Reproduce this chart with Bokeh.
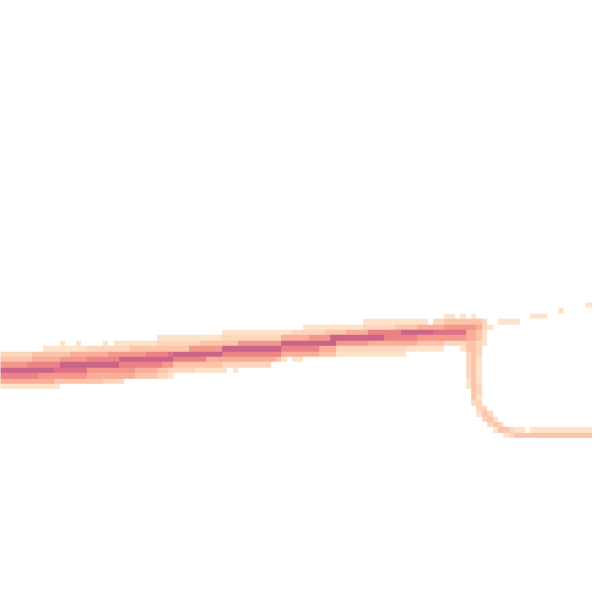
import numpy as np
from bokeh.plotting import figure
from bokeh.models import Range1d, LinearColorMapper
from bokeh.embed import file_html
from bokeh.resources import INLINE

# Aggregated density raster (datashader-like). Each run: (row, first col, last col, density level 1..8)
specks = [
    (55, 107, 108, 1), (56, 102, 102, 1),
    (57, 81, 82, 1), (57, 84, 84, 1), (57, 86, 86, 1), (57, 97, 99, 1),
    (58, 91, 94, 1),
]

band = [
    (58, 66, 77, 1), (58, 79, 80, 2), (58, 81, 87, 3), (58, 88, 88, 2),
    (59, 55, 65, 1), (59, 66, 71, 2), (59, 72, 75, 3), (59, 76, 80, 4), (59, 81, 86, 5),
    (59, 87, 87, 4), (59, 88, 88, 2), (59, 89, 89, 1),
    (60, 40, 52, 1), (60, 53, 58, 2), (60, 59, 62, 3), (60, 63, 66, 4), (60, 67, 72, 6),
    (60, 73, 78, 8), (60, 79, 84, 7), (60, 85, 86, 4), (60, 87, 87, 3), (60, 88, 88, 1),
    (61, 28, 39, 1), (61, 40, 50, 2), (61, 51, 55, 4), (61, 56, 59, 5), (61, 60, 69, 8),
    (61, 70, 75, 6), (61, 76, 84, 5), (61, 85, 86, 4), (61, 87, 87, 3), (61, 88, 88, 1),
    (62, 10, 10, 1), (62, 13, 13, 1), (62, 18, 18, 1), (62, 20, 27, 1), (62, 28, 35, 2),
    (62, 36, 42, 3), (62, 43, 50, 5), (62, 51, 60, 8), (62, 61, 66, 5), (62, 67, 75, 4),
    (62, 76, 80, 3), (62, 81, 84, 2), (62, 85, 86, 3), (62, 87, 87, 2), (62, 88, 88, 1),
    (63, 7, 14, 1), (63, 15, 22, 2), (63, 23, 33, 3), (63, 34, 39, 5), (63, 40, 50, 8),
    (63, 51, 57, 6), (63, 58, 60, 4), (63, 61, 73, 2), (63, 74, 80, 1), (63, 84, 84, 1),
    (63, 85, 86, 3), (63, 87, 87, 2),
    (64, -1, 4, 2), (64, 5, 11, 3), (64, 12, 18, 4), (64, 19, 25, 5), (64, 26, 29, 6),
    (64, 30, 30, 7), (64, 31, 39, 8), (64, 40, 50, 6), (64, 51, 57, 4), (64, 58, 60, 3),
    (64, 61, 73, 1),
    (65, -1, 4, 3), (65, 5, 9, 4), (65, 10, 14, 5), (65, 15, 20, 6), (65, 21, 30, 8),
    (65, 31, 36, 6), (65, 37, 49, 4), (65, 50, 50, 3), (65, 51, 51, 1), (65, 53, 54, 1),
    (66, -1, 3, 5), (66, 4, 9, 6), (66, 10, 20, 8), (66, 21, 28, 6), (66, 29, 30, 5),
    (66, 31, 39, 3), (66, 40, 48, 2),
    (67, -1, 8, 8), (67, 9, 14, 7), (67, 15, 23, 5), (67, 24, 27, 4), (67, 28, 29, 3),
    (67, 30, 34, 2), (67, 35, 40, 1), (67, 42, 42, 1),
    (68, -1, 5, 6), (68, 6, 14, 5), (68, 15, 23, 4), (68, 24, 27, 3), (68, 28, 29, 2),
    (68, 30, 30, 1),
    (69, -1, 8, 4), (69, 9, 17, 3), (69, 18, 21, 2),
    (70, -1, 9, 1),
]

descent = [
    (64, 85, 85, 2), (64, 86, 86, 3), (64, 87, 87, 2),
    (65, 85, 85, 2), (65, 86, 86, 3), (65, 87, 87, 1),
    (66, 85, 85, 2), (66, 86, 86, 3), (66, 87, 87, 1),
    (67, 85, 85, 2), (67, 86, 86, 3), (67, 87, 87, 1),
    (68, 85, 85, 2), (68, 86, 86, 3), (68, 87, 87, 1),
    (69, 85, 85, 1), (69, 86, 86, 3), (69, 87, 87, 1),
    (70, 85, 85, 1), (70, 86, 86, 3), (70, 87, 87, 2),
    (71, 86, 86, 3), (71, 87, 87, 2),
    (72, 86, 86, 3), (72, 87, 87, 1),
    (73, 86, 86, 2), (73, 87, 87, 2),
    (74, 87, 87, 2), (74, 88, 88, 2),
    (75, 87, 87, 1), (75, 88, 88, 3), (75, 89, 89, 2),
    (76, 88, 88, 2), (76, 89, 89, 3), (76, 90, 90, 1),
    (77, 89, 89, 2), (77, 90, 90, 3), (77, 91, 91, 2),
    (78, 90, 90, 1), (78, 91, 92, 3), (78, 93, 93, 2), (78, 94, 95, 1), (78, 97, 109, 1),
    (79, 92, 92, 1), (79, 93, 93, 2), (79, 94, 109, 3),
]

palette = ["#fee3cb", "#fdd6be", "#fcc4a9", "#f9ae98",
           "#f4988b", "#eb8285", "#dd7187", "#cb6489"]

N_ROWS = 111
N_COLS = 112          # columns -1 .. 110
CELL = 5.413          # size of one raster cell in screen px
X0 = 4.87             # left edge of column 0 (reference px)
Y0 = 4.8              # top edge of row 0 (reference px)

grid = np.full((N_ROWS, N_COLS), np.nan)
for r, c0, c1, lv in specks + band + descent:
    grid[r, c0 + 1:c1 + 2] = lv
img = np.flipud(grid)

W = 592
H = 592
p = figure(width=W, height=H, output_backend="svg", toolbar_location=None,
           x_range=Range1d(0, 592), y_range=Range1d(8, 600),
           x_axis_location=None, y_axis_location=None,
           min_border=0, min_border_left=0, min_border_right=0,
           min_border_top=0, min_border_bottom=0)
p.grid.visible = False
p.outline_line_color = None
p.background_fill_color = "white"
p.border_fill_color = "white"

mapper = LinearColorMapper(palette=palette, low=0.5, high=8.5, nan_color="rgba(0,0,0,0)")
p.image(image=[img], x=X0 - CELL, y=600 - (Y0 + CELL * N_ROWS),
        dw=CELL * N_COLS, dh=CELL * N_ROWS, color_mapper=mapper)

open("out.html", "w").write(file_html(p, INLINE))
